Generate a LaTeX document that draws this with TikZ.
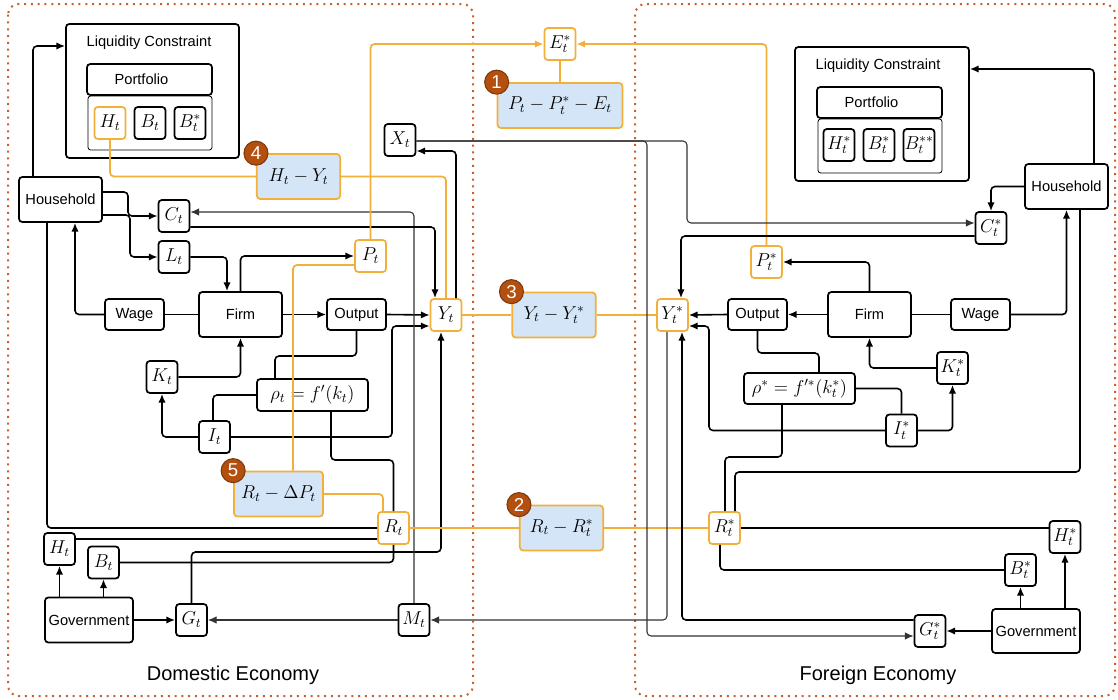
\documentclass[tikz,border=0pt]{standalone}
\usepackage{fix-cm}
\usepackage{fontspec}
\setsansfont{Liberation Sans}
\usetikzlibrary{positioning,arrows.meta}
\definecolor{dotorange}{HTML}{C8602A}
\definecolor{amber}{HTML}{F2AF3A}
\definecolor{badgebrown}{HTML}{B4500F}
\definecolor{gapblue}{HTML}{D5E5F8}
\definecolor{thinline}{HTML}{333333}

\tikzset{
  region/.style={draw=dotorange,line width=1.5pt,dash pattern=on 1.5pt off 3.6pt,rounded corners=8pt},
  blk/.style={draw,line width=1.3pt,rounded corners=2.5pt,fill=white,inner sep=0pt,
    font=\sffamily\fontsize{11}{13}\selectfont},
  var/.style={blk,minimum width=23.25pt,minimum height=24pt,font=\fontsize{14}{16}\selectfont},
  ovar/.style={var,draw=amber},
  gapbox/.style={blk,draw=amber,fill=gapblue,minimum width=62.5pt,minimum height=33.75pt,
    font=\fontsize{14}{16}\selectfont},
  badge/.style={circle,draw=badgebrown!70!black,fill=badgebrown,text=white,minimum size=18pt,
    inner sep=0pt,line width=0.8pt,font=\sffamily\fontsize{14}{14}\selectfont},
  ttl/.style={font=\sffamily\fontsize{11}{13}\selectfont},
  arr/.style={line width=1.2pt,rounded corners=3pt,-{Latex[length=6.5pt,width=5.5pt]}},
  lnk/.style={line width=1.2pt,rounded corners=3pt},
  thn/.style={thinline,line width=0.8pt,rounded corners=3pt},
  tarr/.style={thn,-{Latex[length=6.5pt,width=5.5pt]}},
  gap/.style={amber,line width=1.3pt,rounded corners=3pt},
  garr/.style={gap,-{Latex[length=6.5pt,width=5.5pt]}},
}

\begin{document}
\begin{tikzpicture}[x=0.75pt,y=-0.75pt]
  \useasboundingbox (0,0) rectangle (1118,700);
  % the two economies
  \draw[region] (8,4) rectangle (473,696);
  \draw[region] (635,4) rectangle (1115,696);
  \node[font=\sffamily\fontsize{15}{17}\selectfont] (dlabel) at (233,675) {Domestic Economy};
  \node[font=\sffamily\fontsize{15}{17}\selectfont] (flabel) at (878,675) {Foreign Economy};

  % domestic nodes
  \node[blk,minimum width=129.75pt,minimum height=100.5pt] (lc) at (152.5,91) {};
  \node[ttl] (lctitle) at (149,43) {Liquidity Constraint};
  \node[blk,minimum width=93.75pt,minimum height=23.25pt] (pf) at (149.5,79.5) {Portfolio\hspace*{12pt}};
  \node[blk,line width=0.6pt,rounded corners=2pt,minimum width=93pt,minimum height=40.5pt] (pfin) at (150,123) {};
  \node[ovar] (ht) at (110,123) {$H_t$};
  \node[var] (bt) at (150,123) {$B_t$};
  \node[var] (bst) at (190,123) {$B_t^*$};
  \node[var] (xt) at (400,140) {$X_t$};
  \node[gapbox] (g4) at (298.5,176.5) {$H_t - Y_t$};
  \node[blk,minimum width=62.25pt,minimum height=33.75pt] (hh) at (60.5,199.5) {Household};
  \node[var] (ct) at (174,216) {$C_t$};
  \node[var] (lt) at (174,257) {$L_t$};
  \node[ovar] (pt) at (370.5,256) {$P_t$};
  \node[blk,minimum width=44.25pt,minimum height=23.25pt] (wage) at (134.5,314.5) {Wage};
  \node[blk,minimum width=62.25pt,minimum height=33.75pt] (firm) at (240.5,314.5) {Firm};
  \node[blk,minimum width=44.25pt,minimum height=23.25pt] (out) at (356.5,314.5) {Output};
  \node[ovar] (yt) at (446,315) {$Y_t$};
  \node[var] (kt) at (162,377) {$K_t$};
  \node[blk,minimum width=83.25pt,minimum height=24pt,font=\fontsize{14}{16}\selectfont] (rho) at (312.5,395) {$\rho_t = f'(k_t)$};
  \node[var] (it) at (214.5,437) {$I_t$};
  \node[gapbox,minimum width=66.75pt] (g5) at (278.5,494) {$R_t - \Delta P_t$};
  \node[ovar] (rt) at (393.5,528) {$R_t$};
  \node[var] (ht2) at (59.5,549) {$H_t$};
  \node[var] (bt2) at (103.5,562.5) {$B_t$};
  \node[blk,minimum width=66pt,minimum height=33.75pt] (gov) at (89,620) {Government};
  \node[var] (gt) at (191.5,620) {$G_t$};
  \node[var] (mt) at (414,620) {$M_t$};

  % gaps between the two
  \node[ovar] (es) at (560,44) {$E_t^*$};
  \node[gapbox,minimum width=93.75pt] (g1) at (560,105.5) {$P_t - P_t^* - E_t$};
  \node[gapbox] (g3) at (554,315) {$Y_t - Y_t^*$};
  \node[gapbox] (g2) at (561.5,528) {$R_t - R_t^*$};

  % foreign nodes
  \node[blk,minimum width=130.5pt,minimum height=100.5pt] (flc) at (882,114) {};
  \node[ttl] (flctitle) at (878,66) {Liquidity Constraint};
  \node[blk,minimum width=93.75pt,minimum height=23.25pt] (fpf) at (879.5,102.5) {Portfolio\hspace*{12pt}};
  \node[blk,line width=0.6pt,rounded corners=2pt,minimum width=93pt,minimum height=40.5pt] (fpfin) at (880,146) {};
  \node[var] (fht) at (839,145) {$H_t^*$};
  \node[var] (fbt) at (879,145) {$B_t^*$};
  \node[var] (fbst) at (919,145) {$B_t^{**}$};
  \node[blk,minimum width=62.25pt,minimum height=33.75pt] (fhh) at (1066.5,186.5) {Household};
  \node[var] (fct) at (991,228) {$C_t^*$};
  \node[ovar] (fpt) at (766.5,262) {$P_t^*$};
  \node[ovar] (fyt) at (672.5,315) {$Y_t^*$};
  \node[blk,minimum width=44.25pt,minimum height=23.25pt] (fout) at (757.5,314.5) {Output};
  \node[blk,minimum width=62.25pt,minimum height=33.75pt] (ffirm) at (869.5,314.5) {Firm};
  \node[blk,minimum width=44.25pt,minimum height=23.25pt] (fwage) at (980.5,314.5) {Wage};
  \node[var] (fkt) at (952.5,368) {$K_t^*$};
  \node[blk,minimum width=83.25pt,minimum height=23.25pt,font=\fontsize{14}{16}\selectfont] (frho) at (799.5,388.5) {$\rho^* = f'^*(k_t^*)$};
  \node[var] (fit) at (901.5,430.5) {$I_t^*$};
  \node[ovar] (frt) at (724.5,528) {$R_t^*$};
  \node[var] (fht2) at (1065,537) {$H_t^*$};
  \node[var] (fbt2) at (1020.5,570) {$B_t^*$};
  \node[blk,minimum width=66pt,minimum height=33pt] (fgov) at (1036,631) {Government};
  \node[var] (fgt) at (930,631) {$G_t^*$};

  % badges
  \node[badge] (b1) at (g1.north west) {1};
  \node[badge] (b2) at (g2.north west) {2};
  \node[badge] (b3) at (g3.north west) {3};
  \node[badge] (b4) at (g4.north west) {4};
  \node[badge] (b5) at (g5.north west) {5};

  % domestic links
  \draw[arr] (hh.north -| 33,0) |- (lc.west |- 0,46);
  \draw[arr] (hh.east |- 0,192) -| (128,216) -- (ct.west);
  \draw[arr] (hh.east |- 0,215) -| (130,257) -- (lt.west);
  \draw[arr] (wage.west) -| (hh.south -| 75,0);
  \draw[lnk] (firm.west) -- (wage.east);
  \draw[arr] (lt.east) -| (firm.north -| 227,0);
  \draw[arr] (firm.north) |- (pt.west);
  \draw[arr] (firm.east) -- (out.west);
  \draw[arr] (out.east) -- (yt.west);
  \draw[arr] (kt.east) -| (firm.south);
  \draw[arr] (it.west) -| (kt.south);
  \draw[arr] (it.east) -| (392,326) -- (yt.west |- 0,326);
  \draw[lnk] (it.north -| 213,0) |- (rho.west);
  \draw[lnk] (out.south) |- (275,356) -- (rho.north -| 275,0);
  \draw[lnk] (rho.south -| 331,0) |- (rt.north |- 0,460) -- (rt.north);
  \draw[lnk] (bt2.east) -| (rt.south);
  \draw[lnk] (rt.west) -| (hh.south -| 47,0);
  \draw[lnk] (ht2.east |- 0,539) -- (rt.west |- 0,539);
  \draw[arr] (gov.north -| ht2.south) -- (ht2.south);
  \draw[arr] (gov.north -| bt2.south) -- (bt2.south);
  \draw[arr] (gov.east) -- (gt.west);
  \draw[tarr] (mt.west) -- (gt.east);
  \draw[arr] (gt.north) |- (441,552) -- (yt.south -| 441,0);
  \draw[tarr] (mt.north) |- (ct.east |- 0,212);
  \draw[arr] (ct.east |- 0,227) -| (yt.north -| 435,0);
  \draw[arr] (yt.north -| 456,0) |- (xt.east |- 0,151);

  % gap links
  \draw[gap] (ht.south) |- (g4.west);
  \draw[gap] (g4.east) -| (yt.north);
  \draw[garr] (pt.north) |- (es.west);
  \draw[gap] (pt.west |- 0,265) -| (g5.north -| 293,0);
  \draw[gap] (g5.east) -| (rt.north -| 383,0);
  \draw[gap] (rt.east) -- (g2.west);
  \draw[gap] (g2.east) -- (frt.west);
  \draw[gap] (yt.east) -- (g3.west);
  \draw[gap] (g3.east) -- (fyt.west);
  \draw[gap] (es.south) -- (g1.north);
  \draw[garr] (fpt.north) |- (es.east);

  % foreign links
  \draw[tarr] (xt.east |- 0,141) -| (687,223) -- (fct.west |- 0,223);
  \draw[tarr] (xt.east |- 0,141) -| (647,636) -- (fgt.west |- 0,636);
  \draw[tarr] (fyt.south -| 667,0) |- (mt.east);
  \draw[arr] (fct.west |- 0,236) -| (fyt.north -| 681,0);
  \draw[arr] (fhh.west) -| (fct.north);
  \draw[arr] (fhh.north -| 1094,0) |- (flc.east |- 0,69);
  \draw[arr] (fwage.east) -| (fhh.south);
  \draw[lnk] (fhh.south -| 1080,0) |- (735,472) -- (frt.north -| 735,0);
  \draw[lnk] (frho.south -| 782,0) |- (725,457) -- (frt.north -| 725,0);
  \draw[arr] (ffirm.north) |- (fpt.east);
  \draw[arr] (ffirm.west) -- (fout.east);
  \draw[arr] (fout.west) -- (fyt.east);
  \draw[lnk] (ffirm.east) -- (fwage.west);
  \draw[arr] (fkt.west) -| (ffirm.south);
  \draw[arr] (fit.east) -| (fkt.south);
  \draw[arr] (fit.west) -| (709,326) -- (fyt.east |- 0,326);
  \draw[lnk] (fout.south) |- (819,353) -- (frho.north -| 819,0);
  \draw[lnk] (frho.east) -| (fit.north);
  \draw[lnk] (frt.south -| 720,0) |- (fbt2.west);
  \draw[lnk] (frt.east) -- (fht2.west |- frt.east);
  \draw[arr] (fgov.north -| fht2.south) -- (fht2.south);
  \draw[arr] (fgov.north -| fbt2.south) -- (fbt2.south);
  \draw[arr] (fgov.west) -- (fgt.east);
  \draw[arr] (fgt.west |- 0,620) -| (fyt.south -| 682,0);
\end{tikzpicture}
\end{document}
